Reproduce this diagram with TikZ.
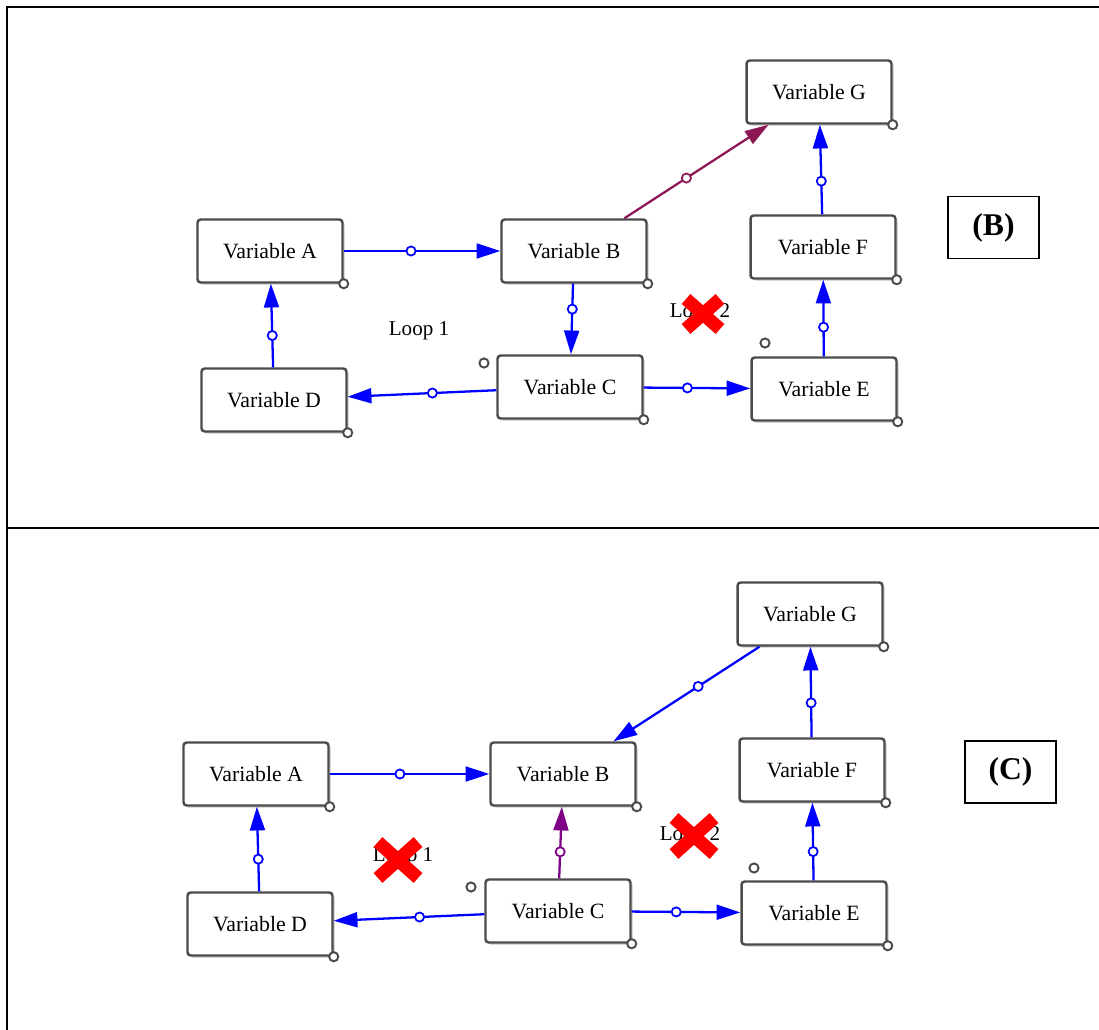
\documentclass[tikz,border=0pt]{standalone}
\usepackage{fontspec}
\setmainfont{Liberation Serif}
\usetikzlibrary{arrows.meta,shadows}

\definecolor{vblue}{RGB}{0,0,255}
\definecolor{vmaroon}{RGB}{140,25,85}
\definecolor{vpurple}{RGB}{125,0,135}
\definecolor{vborder}{RGB}{75,75,75}
\definecolor{vred}{RGB}{255,0,0}

\tikzset{
  var/.style={draw=vborder, line width=1.4pt, rounded corners=1.8pt, fill=white,
    minimum width=2.9cm, minimum height=1.26cm, inner sep=0pt,
    font=\fontsize{12.4}{14}\selectfont,
    drop shadow={opacity=0.3, shadow xshift=1.3pt, shadow yshift=-1.3pt}},
  handle/.style={circle, draw=vborder, fill=white, line width=1.1pt,
    minimum size=5.2pt, inner sep=0pt},
  link/.style={line width=1.3pt, -{Triangle[length=13.5pt,width=8.5pt]}},
  dot/.style={circle, draw, fill=white, line width=1pt, minimum size=5.2pt, inner sep=0pt},
  tag/.style={draw=black, line width=1.1pt, minimum width=1.82cm, minimum height=1.24cm,
    font=\fontsize{18}{20}\selectfont\bfseries},
  looptext/.style={font=\fontsize{12}{14}\selectfont},
  cross/.style={draw=vred, line width=7.5pt}
}

\begin{document}
\begin{tikzpicture}[x=0.02cm, y=-0.02cm]
  \useasboundingbox (0,0) rectangle (1099,1030);

  % table rules
  \draw[line width=1.2pt] (7,1030) -- (7,7) -- (1099,7);
  \draw[line width=1.2pt] (7,528) -- (1099,528);

  % ---------------- panel (B) ----------------
  \node[var] (bA) at (270,251) {Variable A};
  \node[var] (bB) at (574,251) {Variable B};
  \node[var] (bC) at (570,387) {Variable C};
  \node[var] (bD) at (274,400) {Variable D};
  \node[var] (bE) at (824,389) {Variable E};
  \node[var] (bF) at (823,247) {Variable F};
  \node[var] (bG) at (819,92)  {Variable G};

  \node[looptext] (bL1) at (419,331) {Loop 1};
  \node[looptext] (bL2) at (700,313) {Loop 2};

  \draw[link, vblue] (bA) -- node[dot, pos=0.43] (bd1) {} (bB);
  \draw[link, vblue] (bB) -- node[dot, pos=0.36] (bd2) {} (bC);
  \draw[link, vblue] (bC) -- node[dot, pos=0.43] (bd3) {} (bD);
  \draw[link, vblue] (bD) -- node[dot, pos=0.38] (bd4) {} (bA);
  \draw[link, vblue] (bC) -- node[dot, pos=0.41] (bd5) {} (bE);
  \draw[link, vblue] (bE) -- node[dot, pos=0.38] (bd6) {} (bF);
  \draw[link, vblue] (bF) -- node[dot, pos=0.37] (bd7) {} (bG);
  \draw[link, vmaroon] (bB) -- node[dot, pos=0.43] (bd8) {} (bG);

  \foreach \n in {bA,bB,bC,bD,bE,bF,bG}
    \node[handle] (h\n) at (\n.south east) {};
  \node[handle] (bx1) at (484,363) {};
  \node[handle] (bx2) at (765,343) {};

  % loop 2 struck out
  \coordinate (bk) at (703,314);
  \draw[cross] ([shift={(-17,-15)}]bk) -- ([shift={(17,15)}]bk);
  \draw[cross] ([shift={(-17,15)}]bk) -- ([shift={(17,-15)}]bk);

  \node[tag] (tagB) at (993.5,227.5) {(B)};

  % ---------------- panel (C) ----------------
  \node[var] (cA) at (256,774) {Variable A};
  \node[var] (cB) at (563,774) {Variable B};
  \node[var] (cC) at (558,911) {Variable C};
  \node[var] (cD) at (260,924) {Variable D};
  \node[var] (cE) at (814,913) {Variable E};
  \node[var] (cF) at (812,770) {Variable F};
  \node[var] (cG) at (810,614) {Variable G};

  \node[looptext] (cL1) at (403,857) {Loop 1};
  \node[looptext] (cL2) at (690,836) {Loop 2};

  \draw[link, vblue] (cA) -- node[dot, pos=0.44] (cd1) {} (cB);
  \draw[link, vpurple] (cC) -- node[dot, pos=0.37] (cd2) {} (cB);
  \draw[link, vblue] (cC) -- node[dot, pos=0.43] (cd3) {} (cD);
  \draw[link, vblue] (cD) -- node[dot, pos=0.38] (cd4) {} (cA);
  \draw[link, vblue] (cC) -- node[dot, pos=0.41] (cd5) {} (cE);
  \draw[link, vblue] (cE) -- node[dot, pos=0.37] (cd6) {} (cF);
  \draw[link, vblue] (cF) -- node[dot, pos=0.38] (cd7) {} (cG);
  \draw[link, vblue] (cG) -- node[dot, pos=0.42] (cd8) {} (cB);

  \foreach \n in {cA,cB,cC,cD,cE,cF,cG}
    \node[handle] (h\n) at (\n.south east) {};
  \node[handle] (cx1) at (471,887) {};
  \node[handle] (cx2) at (754,868) {};

  % both loops struck out
  \coordinate (ck1) at (398,860);
  \draw[cross] ([shift={(-20,-18)}]ck1) -- ([shift={(20,18)}]ck1);
  \draw[cross] ([shift={(-20,18)}]ck1) -- ([shift={(20,-18)}]ck1);
  \coordinate (ck2) at (694,836);
  \draw[cross] ([shift={(-20,-18)}]ck2) -- ([shift={(20,18)}]ck2);
  \draw[cross] ([shift={(-20,18)}]ck2) -- ([shift={(20,-18)}]ck2);

  \node[tag] (tagC) at (1010.5,772) {(C)};
\end{tikzpicture}
\end{document}
